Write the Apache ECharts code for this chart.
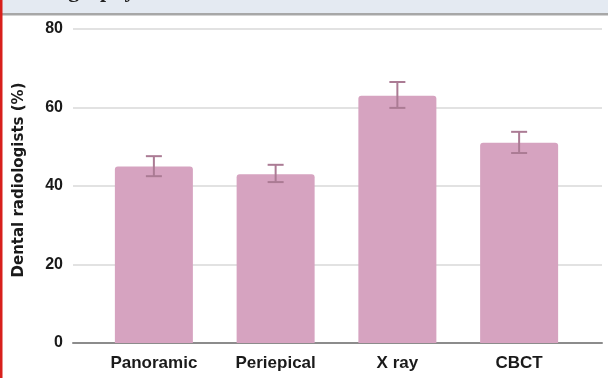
<!DOCTYPE html>
<html>
<head>
<meta charset="utf-8">
<style>html,body{margin:0;padding:0;background:#fff;}#chart{width:608px;height:378px;}</style>
<script src="https://cdn.jsdelivr.net/npm/echarts@6/dist/echarts.min.js"></script>
</head>
<body>
<div id="chart"></div>
<script>
const categories = ['Panoramic', 'Periepical', 'X ray', 'CBCT'];
const values = [45, 43, 63, 51];
const errLow = [42.5, 41.0, 59.9, 48.4];
const errHigh = [47.6, 45.4, 66.5, 53.8];
const yTicks = [0, 20, 40, 60, 80];
const yName = 'Dental radiologists (%)';
const headerText = 'Radiography';

const chart = echarts.init(document.getElementById('chart'), null, {renderer: 'canvas'});
const errData = categories.map((c, i) => [i, errLow[i], errHigh[i]]);

const option = {
  animation: false,
  backgroundColor: '#ffffff',
  graphic: [
    {type: 'rect', left: 0, top: 0, shape: {width: 608, height: 13}, style: {fill: '#e4eaf2'}, z: 10},
    {type: 'text', x: 12, y: 2, style: {text: headerText, font: 'bold 22px "Liberation Serif", serif', fill: '#222', textVerticalAlign: 'bottom'}, z: 11},
    {type: 'rect', left: 0, top: 13, shape: {width: 608, height: 2.5}, style: {fill: '#a7a7a7'}, z: 12},
    {type: 'rect', left: 0, top: 0, shape: {width: 2.5, height: 378}, style: {fill: '#d8201c'}, z: 13}
  ],
  grid: [
    {left: 73, right: 6, top: 29, bottom: 35},
    {left: 93, right: 28, top: 29, bottom: 35}
  ],
  xAxis: [
    {type: 'category', gridIndex: 0, data: categories, axisLabel: {show: false}, axisTick: {show: false},
     axisLine: {show: true, lineStyle: {color: '#8c8c8c', width: 2}}},
    {type: 'category', gridIndex: 1, data: categories, axisTick: {show: false}, axisLine: {show: false},
     axisLabel: {margin: 12, fontFamily: '"Liberation Sans", Arial, sans-serif', fontWeight: 'bold', fontSize: 17, color: '#1a1a1a'}}
  ],
  yAxis: [
    {type: 'value', gridIndex: 0, min: yTicks[0], max: yTicks[yTicks.length - 1], interval: 20,
     axisLine: {show: false}, axisTick: {show: false},
     axisLabel: {margin: 10, fontFamily: '"Liberation Sans", Arial, sans-serif', fontWeight: 'bold', fontSize: 16, color: '#1a1a1a'},
     splitLine: {lineStyle: {color: '#e2e2e2', width: 2}},
     name: yName, nameLocation: 'middle', nameGap: 46,
     nameTextStyle: {fontFamily: '"DejaVu Sans", sans-serif', fontWeight: 'bold', fontSize: 15, color: '#1a1a1a', padding: [0, 0, 0, 12]}},
    {type: 'value', gridIndex: 1, min: 0, max: 80, interval: 20, show: false, splitLine: {show: false}}
  ],
  series: [
    {type: 'bar', xAxisIndex: 1, yAxisIndex: 1, data: values, barWidth: 78,
     itemStyle: {color: '#d6a3c0', borderRadius: [3, 3, 0, 0]}},
    {type: 'custom', xAxisIndex: 1, yAxisIndex: 1, data: errData, z: 5,
     renderItem: function (params, api) {
       const x = api.value(0);
       const lo = api.coord([x, api.value(1)]);
       const hi = api.coord([x, api.value(2)]);
       const w = 8;
       const st = {stroke: '#ab7b94', lineWidth: 2};
       return {type: 'group', children: [
         {type: 'line', shape: {x1: lo[0], y1: lo[1], x2: hi[0], y2: hi[1]}, style: st},
         {type: 'line', shape: {x1: lo[0] - w, y1: lo[1], x2: lo[0] + w, y2: lo[1]}, style: st},
         {type: 'line', shape: {x1: hi[0] - w, y1: hi[1], x2: hi[0] + w, y2: hi[1]}, style: st}
       ]};
     }}
  ]
};
chart.setOption(option);
</script>
</body>
</html>
